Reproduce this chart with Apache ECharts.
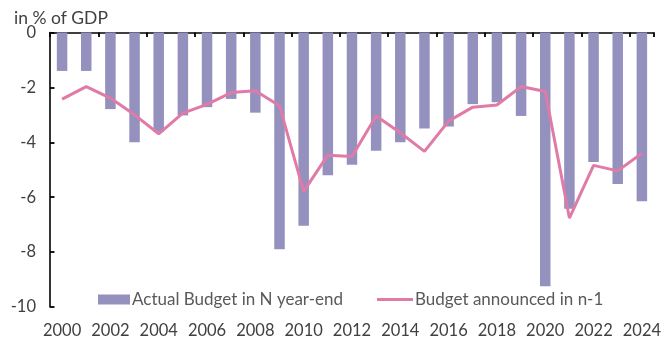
<!DOCTYPE html>
<html><head><meta charset="utf-8">
<script src="https://cdn.jsdelivr.net/npm/echarts@6/dist/echarts.min.js"></script>
<style>html,body{margin:0;padding:0;background:#fff}#c{width:664px;height:341px}</style>
</head><body><div id="c"></div>
<script>
const years = ['2000','2001','2002','2003','2004','2005','2006','2007','2008','2009','2010','2011','2012','2013','2014','2015','2016','2017','2018','2019','2020','2021','2022','2023','2024'];
const actualBudget = [-1.40,-1.40,-2.79,-4.00,-3.62,-3.02,-2.72,-2.42,-2.92,-7.90,-7.04,-5.20,-4.82,-4.31,-4.00,-3.50,-3.42,-2.61,-2.54,-3.04,-9.24,-6.42,-4.72,-5.52,-6.15];
const announcedBudget = [-2.43,-1.97,-2.39,-3.00,-3.69,-2.94,-2.62,-2.19,-2.12,-2.67,-5.79,-4.47,-4.52,-3.04,-3.65,-4.33,-3.23,-2.72,-2.64,-1.97,-2.15,-6.76,-4.84,-5.04,-4.40];
const yTicks = {min:-10, max:0, interval:2};
const unitLabel = 'in % of GDP';
const nameBar = 'Actual Budget in N year-end';
const nameLine = 'Budget announced in n-1';

const FONT = 'Lato';
const chart = echarts.init(document.getElementById('c'), null, {renderer:'canvas'});
chart.setOption({
  animation:false,
  textStyle:{fontFamily:FONT},
  title:{text:unitLabel, left:9, top:4, textStyle:{fontFamily:FONT, fontSize:17.5, fontWeight:'normal', color:'#404040'}},
  grid:{left:50, right:9, top:32.5, bottom:34},
  legend:[
    {data:[{name:nameBar, icon:'rect'}], left:93, top:286, itemWidth:32, itemHeight:10, itemGap:0,
     textStyle:{fontFamily:FONT, fontSize:17, color:'#595959', padding:[0,0,0,-3]}},
    {data:[{name:nameLine, icon:'rect'}], left:372, top:286, itemWidth:36, itemHeight:3, itemGap:0,
     textStyle:{fontFamily:FONT, fontSize:17, color:'#595959', padding:[0,0,0,-3]}}
  ],
  xAxis:[
    {type:'category', data:years, position:'bottom', boundaryGap:true,
     axisLine:{show:false}, axisTick:{show:false},
     axisLabel:{interval:1, margin:15, fontFamily:FONT, fontSize:16.5, color:'#404040'}},
    {type:'category', data:years, position:'top', boundaryGap:true,
     axisLine:{show:true, onZero:false, lineStyle:{color:'#000', width:1.6}},
     axisTick:{show:true, inside:true, interval:1, length:4.5, lineStyle:{color:'#000', width:1.8}},
     axisLabel:{show:false}}
  ],
  yAxis:{type:'value', min:yTicks.min, max:yTicks.max, interval:yTicks.interval,
    splitLine:{show:false},
    axisLine:{show:true, lineStyle:{color:'#000', width:1.6}},
    axisTick:{show:true, inside:true, length:4.5, lineStyle:{color:'#000', width:1.8}},
    axisLabel:{margin:14, fontFamily:FONT, fontSize:16.5, color:'#404040'}},
  series:[
    {name:nameBar, type:'bar', data:actualBudget, barWidth:10.5, xAxisIndex:0,
     itemStyle:{color:'#9491BF'}},
    {name:nameLine, type:'line', data:announcedBudget, xAxisIndex:0, symbol:'none', showSymbol:false,
     lineStyle:{color:'#E07AA6', width:3}, itemStyle:{color:'#E07AA6'}}
  ]
});
</script></body></html>
